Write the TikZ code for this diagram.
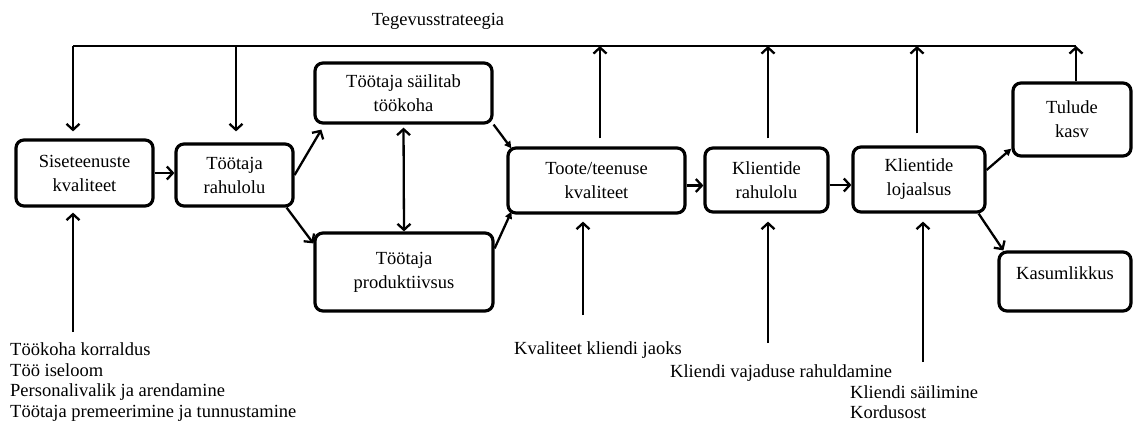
\documentclass[tikz,border=0pt]{standalone}
\usepackage{fontspec}
\setmainfont{Liberation Serif}
\usetikzlibrary{arrows.meta}
\begin{document}
\begin{tikzpicture}[x=1pt,y=-1pt,
  box/.style={draw, line width=3.2pt, rounded corners=8pt, align=center,
              inner sep=0pt, font=\fontsize{18.5}{24}\selectfont},
  link/.style={line width=2.3pt, -{Straight Barb[length=6pt,width=13pt]}},
  both/.style={line width=2.3pt,
               {Straight Barb[length=6pt,width=13pt]}-{Straight Barb[length=6pt,width=13pt]}},
  wedge/.style={line width=2.3pt, -{Triangle[length=7pt,width=7pt]}},
  plain/.style={line width=2.3pt},
  lbl/.style={font=\fontsize{18.5}{20.5}\selectfont, inner sep=0pt}
]
\useasboundingbox (0,0) rectangle (1133,421);

% boxes of the chain
\node[box, minimum width=137pt, minimum height=66pt] (sise) at (84.5,173) {Siseteenuste\\kvaliteet};
\node[box, minimum width=117pt, minimum height=62pt] (rahu) at (234.5,175) {Töötaja\\rahulolu};
\node[box, minimum width=177pt, minimum height=60pt] (sail) at (403.5,93) {Töötaja säilitab\\töökoha};
\node[box, minimum width=178pt, minimum height=78pt] (prod) at (404,272) {Töötaja\\produktiivsus};
\node[box, minimum width=177pt, minimum height=65pt] (toote) at (596.5,180.5) {Toote/teenuse\\kvaliteet};
\node[box, minimum width=123pt, minimum height=64pt] (kr) at (766.5,180) {Klientide\\rahulolu};
\node[box, minimum width=132pt, minimum height=65pt] (loj) at (919,179.5) {Klientide\\lojaalsus};
\node[box, minimum width=118pt, minimum height=73pt] (tul) at (1072,119.5) {Tulude\\kasv};
\node[box, minimum width=132pt, minimum height=59pt, text height=13pt, text depth=18pt] (kas) at (1065,281.5) {Kasumlikkus};

% strategy line along the top
\coordinate (tA) at (73,46);
\coordinate (tB) at (236,46);
\coordinate (tC) at (600,46);
\coordinate (tD) at (768,46);
\coordinate (tE) at (917,46);
\coordinate (tF) at (1076,46);
\node[lbl, anchor=base] (strat) at (438,25) {Tegevusstrateegia};
\draw[plain] (tA) -- (tF);
\draw[link, shorten >=7pt] (tA) -- (tA |- sise.north);
\draw[link, shorten >=11pt] (tB) -- (tB |- rahu.north);
\draw[link, shorten <=8pt] (tC |- toote.north) -- (tC);
\draw[link, shorten <=8pt] (tD |- kr.north) -- (tD);
\draw[link, shorten <=12pt] (tE |- loj.north) -- (tE);
\draw[link] (tul.north -| tF) -- (tF);

% main flow
\draw[link] (sise.east) -- (sise.east -| rahu.west);
\draw[link] (rahu.east) -- ([xshift=8pt,yshift=-5pt]sail.south west);
\draw[link] ([xshift=-8pt]rahu.south east) -- ([yshift=-12pt]prod.north west);
\draw[both, shorten <=3pt] (sail.south) -- (prod.north);
\draw[wedge] (sail.south east) -- ([xshift=5pt,yshift=-2pt]toote.north west);
\draw[wedge] ([yshift=-17pt]prod.north east) -- ([xshift=5pt,yshift=3pt]toote.south west);
\draw[link] ([yshift=-5pt]toote.east) -- ([yshift=-5pt]toote.east -| kr.west);
\draw[link] ([yshift=-5pt]kr.east) -- ([yshift=-5pt]kr.east -| loj.west);
\draw[wedge] ([yshift=9.5pt]loj.east) -- ([yshift=9pt]tul.south west);
\draw[link] ([xshift=-8pt]loj.south east) -- ([xshift=6pt]kas.north west);

% drivers from below
\coordinate (bA) at (73,332);
\coordinate (bB) at (583,315);
\coordinate (bC) at (768,343);
\coordinate (bD) at (923,362);
\draw[link, shorten >=5pt] (bA) -- (bA |- sise.south);
\draw[link, shorten >=7pt] (bB) -- (bB |- toote.south);
\draw[link, shorten >=8pt] (bC) -- (bC |- kr.south);
\draw[link, shorten >=8pt] (bD) -- (bD |- loj.south);

\node[lbl, anchor=base west] (d1) at (10,355.5) {Töökoha korraldus};
\node[lbl, anchor=base west] (d2) at (10,376) {Töö iseloom};
\node[lbl, anchor=base west] (d3) at (10,396.5) {Personalivalik ja arendamine};
\node[lbl, anchor=base west] (d4) at (10,417) {Töötaja premeerimine ja tunnustamine};
\node[lbl, anchor=base west] (q1) at (514,354) {Kvaliteet kliendi jaoks};
\node[lbl, anchor=base west] (q2) at (670,377) {Kliendi vajaduse rahuldamine};
\node[lbl, anchor=base west] (q3) at (850,398) {Kliendi säilimine};
\node[lbl, anchor=base west] (q4) at (850,418.5) {Kordusost};
\end{tikzpicture}
\end{document}
